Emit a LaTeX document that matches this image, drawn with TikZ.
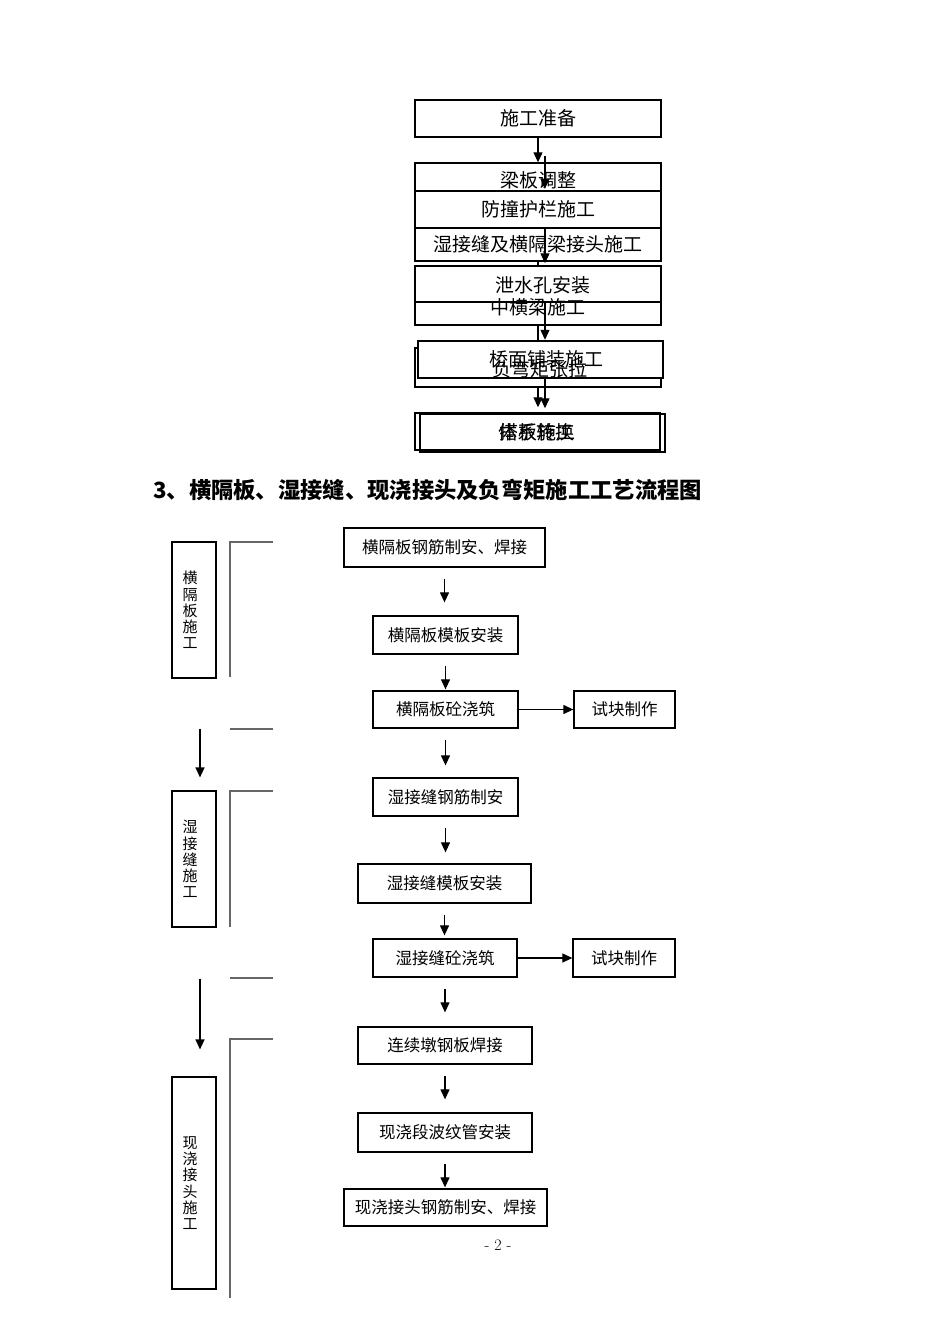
\documentclass[tikz,border=0pt]{standalone}
\usepackage{fontspec}
\newfontfamily\cjk{Noto Sans CJK SC}
\usetikzlibrary{arrows.meta}

\begin{document}
\begin{tikzpicture}[x=1pt, y=-1pt,
	box/.style = {draw, line width=1.3pt, inner sep=0pt, font=\cjk\fontsize{16.5}{18}\selectfont},
	topbox/.style = {draw, line width=1.4pt, inner sep=0pt, minimum width=246pt, font=\cjk\fontsize{19}{21}\selectfont},
	toptext/.style = {inner sep=0pt, font=\cjk\fontsize{19}{21}\selectfont},
	side/.style = {draw, line width=1.2pt, minimum width=44pt, inner sep=0pt},
	sidetext/.style = {align=center, inner sep=0pt, xshift=-4pt, font=\cjk\fontsize{15}{16.2}\selectfont},
	flow/.style = {-{Triangle[length=10pt,width=9pt]}, line width=1.2pt},
	brace/.style = {line width=1.5pt, black!60}]
	\fill [white] (0,0) rectangle (950,1344);
	\useasboundingbox (0,0) rectangle (950,1344);

	% upper chart, two drafts printed one over the other
	\node [topbox, line width=2.4pt, minimum height=37pt] (prep) at (538,118.5) {施工准备};
	\node [topbox, minimum height=28pt] (lbtz) at (538,177) {};
	\node [toptext] (lbtz-t) at (538,180) {梁板调整};
	\node [topbox, minimum height=37pt] (fzhl) at (538,209.5) {防撞护栏施工};
	\node [topbox, minimum height=33pt] (jsf) at (538,244.5) {湿接缝及横隔梁接头施工};
	\node [topbox, minimum height=59pt] (xs) at (538,295.5) {};
	\draw [line width=1.2pt] (415,302) -- (661,302);
	\node [toptext] (xs-t) at (543,285) {泄水孔安装};
	\node [toptext] (zhl) at (538,307) {中横梁施工};
	\node [topbox, minimum height=39pt] (fw) at (538,367.5) {};
	\node [topbox, line width=2.4pt, fill=white, minimum width=245pt, minimum height=37pt] (qm) at (540.5,359.5) {};
	\node [toptext] (qm-t) at (546,359) {桥面铺装施工};
	\node [toptext] (fw-t) at (540,369) {负弯矩张拉};
	\node [topbox, minimum width=245pt, minimum height=37pt] (tx) at (537.5,431.5) {};
	\node [topbox, minimum width=245pt, minimum height=38pt] (db) at (542.5,433) {};
	\node [toptext] (tx-t) at (536,432) {体系转换};
	\node [toptext] (db-t) at (537,432) {搭板施工};

	\draw [flow] (prep) -- (lbtz);
	\draw [line width=1.2pt] (jsf.south) -- (xs.north);
	\draw [line width=1.2pt] (xs.south) -- ([xshift=-2.5pt]qm.north);
	\draw [flow, shorten >=5pt] (fw.south) -- ([xshift=0.5pt]tx.north);
	\draw [flow] ([shift={(7,18)}]prep.south) -- ([shift={(7,-3)}]lbtz.south);
	\draw [flow, shorten >=2pt] ([xshift=7pt]fzhl.south) -- ([xshift=7pt]xs.north);
	\draw [flow] ([shift={(7,6.5)}]xs.center) -- ([xshift=4.5pt]qm.north);
	\draw [flow, shorten >=5pt] ([xshift=4.5pt]qm.south) -- ([xshift=2.5pt]db.north);

	\node [anchor=west, inner sep=0pt, font=\cjk\bfseries\fontsize{22.3}{24}\selectfont] (title) at (153,490) {3、横隔板、湿接缝、现浇接头及负弯矩施工工艺流程图};

	% lower chart
	\node [box, minimum width=201pt, minimum height=39pt] (hbgj) at (444.5,547.5) {横隔板钢筋制安、焊接};
	\node [box, minimum width=145pt, minimum height=38pt] (hbmb) at (445.5,635) {横隔板模板安装};
	\node [box, minimum width=145pt, minimum height=37pt] (hbjz) at (445.5,709.5) {横隔板砼浇筑};
	\node [box, minimum width=101pt, minimum height=37pt] (sk1) at (624.5,709.5) {试块制作};
	\node [box, minimum width=145pt, minimum height=38pt] (sjgj) at (445.5,797) {湿接缝钢筋制安};
	\node [box, minimum width=173pt, minimum height=39pt] (sjmb) at (444.5,883.5) {湿接缝模板安装};
	\node [box, minimum width=144pt, minimum height=38pt] (sjjz) at (445,958) {湿接缝砼浇筑};
	\node [box, minimum width=102pt, minimum height=38pt] (sk2) at (624,958) {试块制作};
	\node [box, minimum width=174pt, minimum height=37pt] (lxd) at (445,1045.5) {连续墩钢板焊接};
	\node [box, minimum width=174pt, minimum height=39pt] (bwg) at (445,1132.5) {现浇段波纹管安装};
	\node [box, minimum width=203pt, minimum height=37pt] (xjgj) at (445.5,1207.5) {现浇接头钢筋制安、焊接};

	\draw [flow, shorten <=11pt, shorten >=13pt] (hbgj) -- (hbgj |- hbmb.north);
	\draw [flow, shorten <=11pt, shorten >=1pt] (hbmb) -- (hbjz);
	\draw [flow] (hbjz) -- (sk1);
	\draw [flow, shorten <=11pt, shorten >=12pt] (hbjz) -- (sjgj);
	\draw [flow, shorten <=11pt, shorten >=11pt] (sjgj) -- (sjgj |- sjmb.north);
	\draw [flow, shorten <=11pt, shorten >=3pt] (sjmb) -- (sjmb |- sjjz.north);
	\draw [flow] (sjjz) -- (sk2);
	\draw [flow, shorten <=11pt, shorten >=14pt] (sjjz) -- (lxd);
	\draw [flow, shorten <=11pt, shorten >=13pt] (lxd) -- (bwg);
	\draw [flow, shorten <=11pt, shorten >=1pt] (bwg) -- (bwg |- xjgj.north);

	% stages on the left
	\node [side, minimum height=136pt, label={[sidetext]center:横\\隔\\板\\施\\工}] (hbsg) at (194,610) {};
	\node [side, minimum height=136pt, label={[sidetext]center:湿\\接\\缝\\施\\工}] (sjsg) at (194,859) {};
	\node [side, minimum height=212pt, label={[sidetext]center:现\\浇\\接\\头\\施\\工}] (xjsg) at (194,1183) {};
	\draw [flow, shorten <=50pt, shorten >=13pt] ([xshift=6pt]hbsg.south) -- ([xshift=6pt]sjsg.north);
	\draw [flow, shorten <=51pt, shorten >=27pt] ([xshift=6pt]sjsg.south) -- ([xshift=6pt]xjsg.north);

	\draw [brace] (273,542) -- (230,542) -- (230,677);
	\draw [brace] (230,729) -- (273,729);
	\draw [brace] (273,791) -- (230,791) -- (230,927);
	\draw [brace] (230,978) -- (273,978);
	\draw [brace] (273,1039) -- (230,1039) -- (230,1298);

	\node [font=\fontsize{16}{18}\selectfont] (pgno) at (498,1245) {- 2 -};
\end{tikzpicture}
\end{document}
